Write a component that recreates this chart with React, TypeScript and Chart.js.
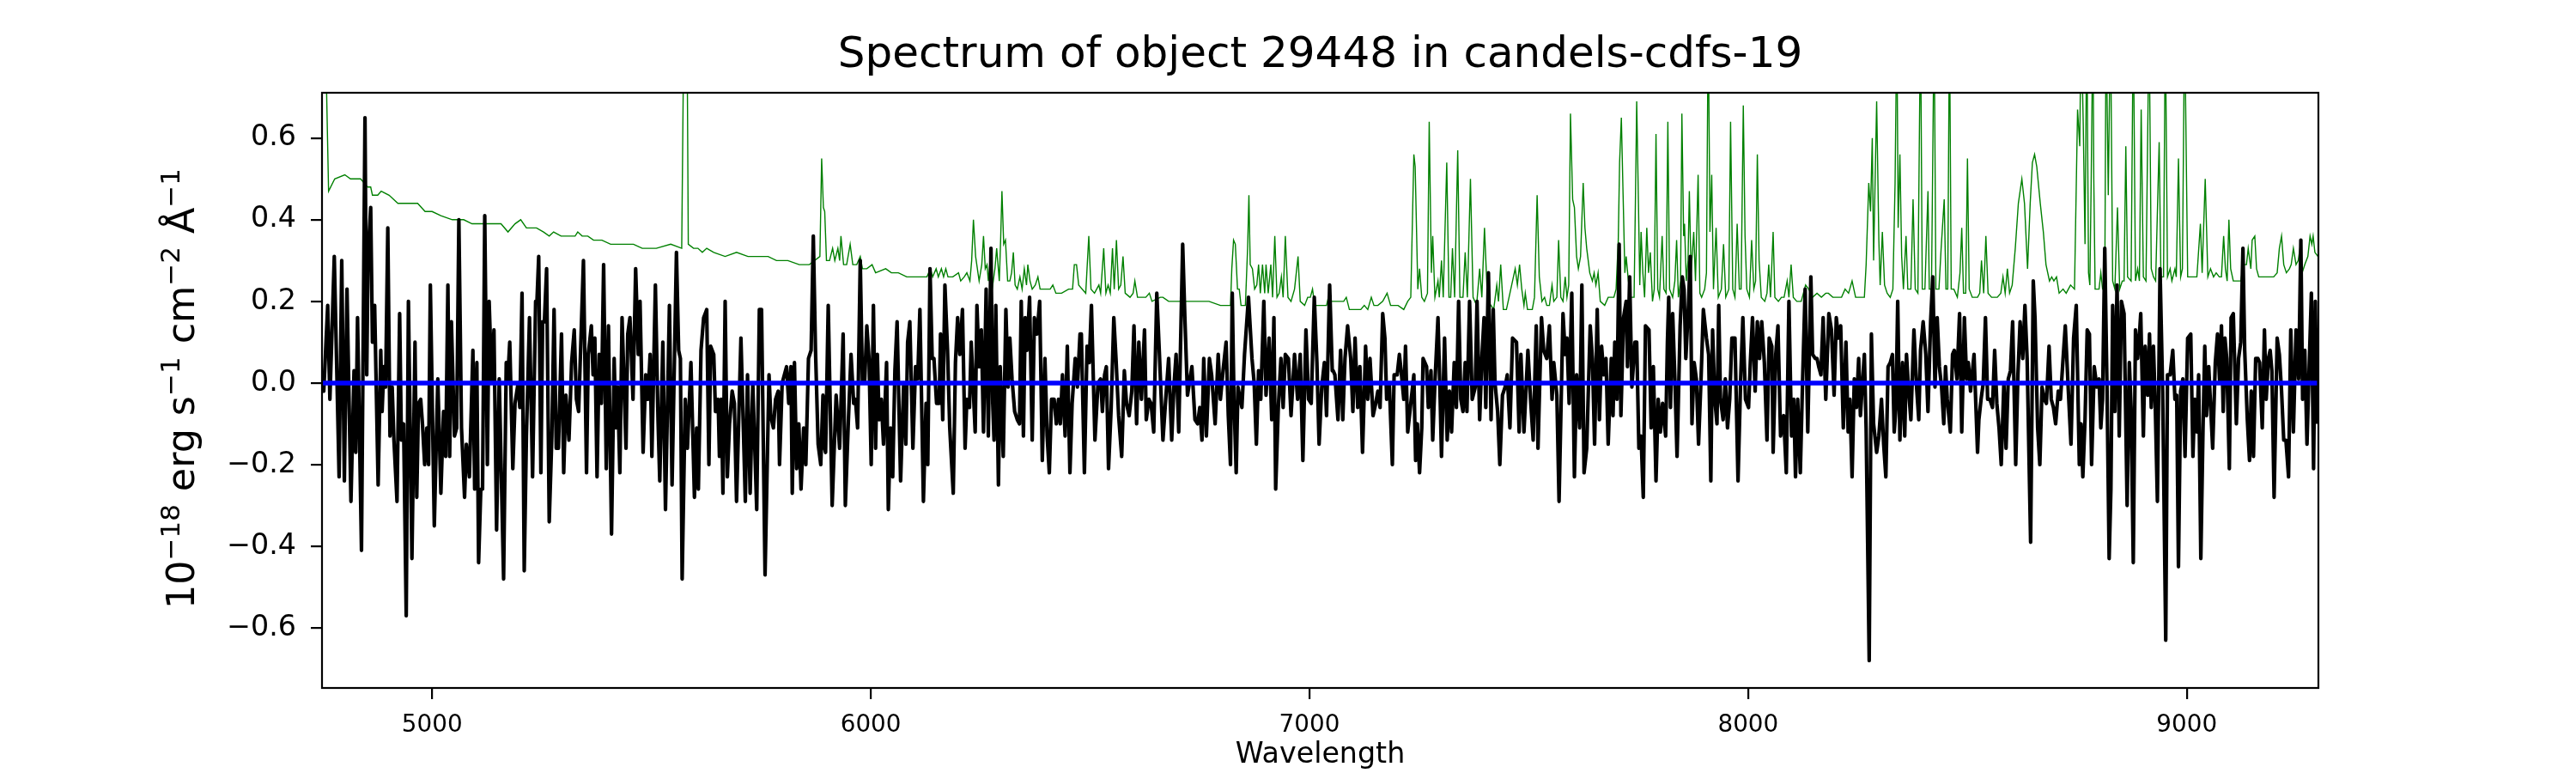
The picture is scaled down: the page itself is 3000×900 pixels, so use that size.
import { useEffect, useRef } from "react";
import { Chart, registerables } from "chart.js";

Chart.register(...registerables);

const FONT = "DejaVu Sans";

const TITLE = "Spectrum of object 29448 in candels-cdfs-19";
const X_LABEL = "Wavelength";
// y label pieces: base text and its superscript
const Y_LABEL_BASE = ["10", "erg", "s", "cm", "Å"];
const Y_LABEL_SUP = ["\u221218", "", "\u22121", "\u22122", "\u22121"];

const X_MIN = 4749;
const X_MAX = 9300;
const Y_MIN = -0.747;
const Y_MAX = 0.711;

const X_TICKS = [5000, 6000, 7000, 8000, 9000];
const Y_TICKS = [-0.6, -0.4, -0.2, 0, 0.2, 0.4, 0.6];

// observed flux (black)
const FLUX_WAVE = [
  4750, 4753, 4762, 4767, 4777, 4788, 4794, 4800, 4806, 4815, 4822, 4826, 4830, 4839, 4847, 4851, 4854, 4860, 4864, 4869,
  4877, 4883, 4886, 4890, 4894, 4899, 4904, 4909, 4913, 4920, 4926, 4930, 4935, 4941, 4946, 4954, 4961, 4965, 4969, 4974,
  4978, 4983, 4988, 4992, 4996, 5005, 5013, 5020, 5026, 5031, 5036, 5040, 5044, 5051, 5056, 5061, 5067, 5074, 5078, 5085,
  5093, 5097, 5102, 5106, 5111, 5115, 5120, 5126, 5130, 5136, 5141, 5147, 5153, 5163, 5169, 5172, 5177, 5184, 5189, 5196,
  5200, 5205, 5210, 5215, 5222, 5229, 5236, 5239, 5243, 5248, 5252, 5256, 5261, 5267, 5273, 5278, 5283, 5288, 5295, 5300,
  5305, 5312, 5318, 5324,
  5329, 5334, 5345, 5352, 5356, 5363, 5367, 5371, 5376, 5381, 5386, 5391, 5397, 5402, 5409, 5415, 5419, 5423, 5428, 5433,
  5437, 5442, 5446, 5451, 5458, 5464, 5470, 5474, 5481, 5487, 5492, 5497, 5501, 5509, 5515, 5519, 5526, 5532, 5541, 5547,
  5557, 5562, 5566, 5570, 5577, 5582, 5590, 5598, 5603, 5607, 5613, 5619, 5626, 5631, 5635, 5642, 5646, 5652, 5655, 5659,
  5663, 5668, 5673, 5678, 5684, 5689, 5694, 5704, 5714, 5719, 5725, 5731, 5740, 5746, 5751, 5759, 5768, 5772, 5778, 5783,
  5789, 5792, 5798, 5808, 5813, 5818, 5821, 5826, 5831, 5836, 5841, 5847, 5852, 5858, 5864, 5869, 5874, 5880, 5886, 5891,
  5895,
  5897, 5903, 5912, 5921, 5929, 5937, 5942, 5949, 5955, 5961, 5965, 5970, 5976, 5981, 5986, 5991, 5996, 6001, 6006, 6011,
  6015, 6019, 6024, 6029, 6036, 6040, 6045, 6050, 6055, 6060, 6068, 6075, 6080, 6084, 6089, 6096, 6102, 6107, 6112, 6120,
  6126, 6130, 6135, 6140, 6144, 6150, 6156, 6159, 6164, 6169, 6175, 6180, 6188, 6193, 6198, 6203, 6209, 6215, 6219, 6225,
  6229, 6238, 6242, 6247, 6252, 6257, 6263, 6268, 6274, 6278, 6281, 6285, 6291, 6295, 6302, 6308, 6313, 6317, 6322, 6328,
  6334, 6339, 6343, 6348, 6352, 6356, 6362, 6368, 6373, 6379, 6385, 6391, 6397, 6402, 6407, 6412, 6418, 6423, 6428, 6432,
  6437, 6443, 6448, 6454, 6459, 6466, 6471, 6477,
  6480, 6487, 6493, 6498, 6503, 6511, 6518, 6524, 6528, 6533, 6537, 6542, 6548, 6554, 6559, 6565, 6572, 6578, 6583, 6589,
  6595, 6600, 6606, 6611, 6617, 6624, 6628, 6634, 6639, 6645, 6652, 6658, 6666, 6673, 6679, 6686, 6691, 6696, 6702, 6711,
  6716, 6722, 6732, 6739, 6745, 6750, 6755, 6759, 6765, 6772, 6777, 6785, 6792, 6797, 6803, 6810, 6815, 6820, 6824, 6828,
  6833, 6837, 6846, 6852, 6861, 6869, 6874, 6879, 6884, 6889, 6896, 6901, 6908, 6914, 6919, 6923, 6929, 6935, 6940, 6945,
  6952, 6958, 6966, 6973, 6979, 6985, 6992, 6998, 7004, 7011, 7017, 7022, 7028, 7034, 7039, 7046, 7052,
  7054, 7058, 7065, 7071, 7076, 7081, 7087, 7094, 7099, 7104, 7110, 7115, 7121, 7128, 7133, 7138, 7145, 7151, 7156, 7161,
  7167, 7172, 7176, 7182, 7189, 7193, 7200, 7205, 7209, 7215, 7219, 7224, 7231, 7238, 7242, 7246, 7251, 7256, 7259, 7267,
  7271, 7277, 7281, 7286, 7293, 7298, 7301, 7308, 7314, 7319, 7324, 7330, 7335, 7340, 7345, 7350, 7355, 7359, 7365, 7371,
  7378, 7382, 7388, 7393, 7398, 7402, 7408, 7414, 7419, 7423, 7429, 7434, 7440, 7446, 7451, 7457, 7463, 7472, 7478, 7482,
  7489, 7498, 7504, 7510, 7517, 7521, 7529, 7534, 7541, 7547, 7553, 7557, 7564, 7569, 7578, 7583, 7587, 7592, 7598, 7604,
  7609, 7616, 7621, 7626, 7632,
  7640, 7645, 7650, 7656, 7661, 7666, 7671, 7676, 7681, 7688, 7692, 7696, 7701, 7706, 7710, 7716, 7722, 7725, 7730, 7735,
  7742, 7746, 7751, 7756, 7761, 7766, 7774, 7779, 7784, 7790, 7795, 7800, 7805, 7812, 7816, 7819, 7823, 7828, 7833, 7838,
  7845, 7850, 7854, 7858, 7864, 7868, 7872, 7877, 7882, 7887, 7893, 7898, 7905, 7910, 7915, 7919, 7924, 7929, 7933, 7937,
  7943, 7948, 7953, 7958, 7963, 7970, 7977, 7983, 7988, 7994, 8001, 8005, 8010, 8016, 8021, 8026, 8031, 8037, 8043, 8048,
  8054, 8057, 8063, 8068, 8074, 8081, 8087, 8093, 8099, 8104, 8108, 8113, 8119, 8124, 8130, 8136, 8143, 8147, 8153, 8157,
  8161, 8166, 8171, 8177, 8184, 8190, 8196, 8201, 8206, 8211,
  8217, 8223, 8228, 8232, 8237, 8242, 8247, 8252, 8256, 8260, 8265, 8269, 8276, 8281, 8286, 8293, 8298, 8304, 8309, 8314,
  8319, 8324, 8329, 8333, 8337, 8341, 8346, 8352, 8357, 8361, 8366, 8371, 8378, 8384, 8389, 8393, 8399, 8405, 8410, 8416,
  8421, 8426, 8431, 8436, 8441, 8446, 8450, 8454, 8461, 8466, 8470, 8476, 8482, 8487, 8493, 8498, 8502, 8507, 8515, 8523,
  8526, 8531, 8536, 8541, 8546, 8551, 8557, 8562, 8567, 8572, 8577, 8583, 8588, 8593, 8598, 8603, 8610, 8615, 8620, 8626,
  8631, 8636, 8644, 8650, 8654, 8660, 8665, 8670, 8675, 8680, 8686, 8691, 8696, 8701, 8707, 8712, 8718, 8723, 8730, 8736,
  8742, 8748, 8755, 8759, 8763, 8768, 8773, 8778, 8783, 8789,
  8795, 8800, 8804, 8808, 8813, 8818, 8823, 8827, 8831, 8836, 8841, 8846, 8851, 8857, 8864, 8869, 8873, 8878, 8883, 8888,
  8891, 8895, 8901, 8905, 8911, 8915, 8919, 8924, 8928, 8933, 8939, 8945, 8952, 8956, 8962, 8968, 8973, 8977, 8981, 8986,
  8991, 8996, 9002, 9009, 9014, 9018, 9023, 9027, 9032, 9037, 9041, 9045, 9050, 9054, 9059, 9065, 9070, 9075, 9079, 9083,
  9087, 9091, 9097, 9101, 9106, 9113, 9118, 9123, 9128, 9132, 9138, 9143, 9147, 9152, 9157, 9162, 9166, 9172, 9177, 9181,
  9186, 9190, 9194, 9199, 9206, 9211, 9216, 9221, 9226, 9232, 9237, 9243, 9249, 9255, 9260, 9264, 9269, 9274, 9279, 9284,
  9289, 9293, 9297,
];

const FLUX = [
  -0.01, -0.02, 0.19, -0.04, 0.31, -0.23, 0.30, -0.24, 0.23, -0.29, 0.03, -0.17, 0.16, -0.41, 0.65, 0.02, 0.31, 0.43, 0.10, 0.19,
  -0.25, 0.08, -0.07, 0.04, -0.01, 0.38, -0.13, -0.01, -0.14, -0.29, 0.17, -0.14, -0.10, -0.57, 0.20, -0.43, 0.10, -0.28, -0.05, -0.04,
  -0.10, -0.20, -0.11, -0.20, 0.24, -0.35, 0.01, -0.27, -0.07, -0.18, 0.24, -0.18, 0.15, -0.13, -0.11, 0.40, -0.11, -0.28, -0.15, -0.23,
  0.08, -0.26, 0.05, -0.44, -0.26, -0.26, 0.41, -0.20, 0.20, 0.00, 0.13, -0.36, 0.01, -0.48, 0.05, 0.00, 0.10, -0.21, -0.05, 0.00,
  -0.06, 0.22, -0.46, -0.13, 0.16, -0.23, 0.20, 0.20, 0.31, -0.22, 0.15, 0.15, 0.28, -0.34, -0.13, 0.18, -0.16, -0.16, 0.12, -0.22,
  -0.03, -0.14, 0.05, 0.13,
  -0.04, -0.07, 0.30, -0.22, 0.07, 0.14, 0.02, 0.11, -0.23, 0.07, -0.05, 0.29, -0.21, 0.14, -0.37, 0.06, -0.11, -0.01, -0.22, 0.16,
  0.02, -0.16, 0.12, 0.16, -0.04, 0.28, 0.07, 0.20, -0.17, 0.02, -0.04, 0.07, -0.18, 0.24, -0.09, -0.24, 0.10, -0.31, 0.19, -0.25,
  0.32, 0.08, 0.06, -0.48, -0.04, -0.16, 0.05, -0.28, -0.11, -0.26, 0.08, 0.16, 0.18, -0.20, 0.09, 0.07, -0.07, -0.04, -0.18, -0.04,
  -0.27, 0.20, -0.23, -0.10, -0.02, -0.05, -0.29, 0.11, -0.29, 0.02, -0.27, 0.00, -0.31, 0.18, 0.18, -0.47, 0.02, -0.08, -0.11, -0.04,
  -0.02, -0.20, 0.00, 0.04, -0.05, 0.04, -0.27, 0.05, -0.21, -0.10, -0.26, -0.11, -0.20, 0.06, 0.08, 0.36, 0.08, -0.15, -0.20, -0.03,
  -0.16,
  -0.17, 0.19, -0.30, -0.03, -0.16, 0.12, -0.30, -0.09, 0.07, -0.05, -0.04, -0.11, 0.30, 0.00, 0.00, 0.14, 0.06, -0.20, 0.19, -0.16,
  0.07, -0.09, -0.04, -0.15, 0.05, -0.31, -0.11, -0.23, 0.03, 0.15, -0.24, 0.00, -0.15, 0.10, 0.15, -0.16, 0.04, 0.01, 0.18, -0.29,
  -0.05, -0.20, 0.28, 0.06, 0.06, -0.05, -0.05, 0.12, -0.09, 0.24, 0.08, -0.11, -0.27, 0.05, 0.16, 0.07, 0.18, -0.16, -0.04, -0.06,
  0.10, -0.12, 0.19, 0.04, 0.13, -0.12, 0.23, -0.13, 0.33, -0.05, -0.14, 0.19, -0.25, 0.04, -0.18, 0.18, -0.01, 0.11, 0.01, -0.07,
  -0.09, -0.10, 0.20, -0.13, 0.16, 0.08, 0.21, -0.14, 0.16, 0.12, 0.20, -0.19, 0.06, -0.13, -0.22, -0.04, -0.04, -0.10, -0.04, -0.10,
  0.02, -0.13, 0.09, -0.22, -0.05, 0.06, -0.01, 0.12,
  0.12, -0.22, 0.09, 0.05, 0.19, -0.14, 0.00, 0.01, -0.07, 0.02, 0.04, -0.21, -0.06, 0.16, 0.06, -0.08, -0.18, 0.03, -0.05, -0.08,
  -0.02, 0.14, -0.10, 0.10, -0.04, 0.13, -0.09, -0.04, -0.05, -0.12, 0.22, 0.07, -0.14, -0.03, 0.06, -0.14, -0.01, 0.07, -0.12, 0.34,
  0.16, -0.03, 0.04, -0.09, -0.10, -0.06, -0.14, 0.06, -0.13, 0.06, 0.02, -0.10, 0.07, -0.04, 0.03, 0.10, -0.08, -0.20, 0.22, -0.04,
  -0.22, -0.01, -0.06, 0.07, 0.21, 0.06, 0.00, -0.15, 0.03, -0.04, 0.20, -0.03, 0.11, -0.09, 0.16, -0.26, -0.06, 0.06, -0.06, 0.07,
  0.06, -0.08, 0.07, -0.04, 0.07, -0.19, 0.13, -0.04, -0.05, 0.21, 0.05, -0.15, -0.01, 0.05, -0.08, 0.24, 0.03,
  0.03, 0.02, -0.09, 0.08, -0.09, 0.06, 0.14, 0.06, -0.07, 0.11, -0.06, 0.04, -0.17, 0.09, -0.04, 0.06, -0.08, -0.05, -0.02, -0.06,
  0.17, 0.11, -0.04, 0.00, -0.20, 0.02, 0.02, 0.07, 0.03, -0.04, 0.09, -0.12, -0.05, 0.02, -0.19, -0.10, -0.22, -0.11, 0.06, 0.04,
  -0.06, 0.03, -0.14, 0.00, 0.16, -0.04, -0.18, 0.11, -0.14, -0.02, -0.12, 0.05, -0.06, 0.20, -0.04, -0.07, 0.05, -0.07, 0.20, -0.04,
  -0.01, 0.20, -0.09, 0.06, 0.16, -0.06, 0.27, -0.09, 0.18, 0.00, -0.07, -0.20, -0.03, -0.01, 0.02, -0.11, 0.11, 0.10, -0.12, 0.07,
  -0.12, 0.08, -0.04, -0.14, 0.14, -0.16, 0.16, 0.08, 0.06, 0.14, -0.04, 0.05, -0.03, -0.29, 0.17, 0.07, 0.11, -0.05, 0.22, -0.23,
  0.02, -0.11, 0.24, -0.22, -0.16,
  0.14, 0.06, -0.15, 0.18, -0.09, 0.09, 0.02, 0.06, -0.15, 0.06, -0.08, 0.10, -0.04, 0.34, -0.08, 0.16, 0.20, 0.04, 0.26, -0.01,
  0.10, 0.10, -0.16, -0.13, -0.28, 0.14, 0.13, -0.11, 0.04, -0.24, -0.04, -0.12, -0.05, -0.13, 0.10, 0.21, -0.06, 0.17, 0.01, -0.18,
  0.14, 0.26, 0.23, 0.06, 0.19, 0.31, -0.10, 0.05, 0.01, -0.15, 0.02, 0.18, 0.11, 0.07, -0.24, 0.13, -0.04, -0.10, 0.19, -0.04,
  -0.09, 0.01, -0.11, -0.04, 0.11, 0.11, -0.24, 0.01, 0.16, -0.04, -0.06, 0.05, 0.16, -0.02, 0.15, 0.06, 0.15, 0.05, -0.14, 0.11,
  0.09, -0.17, 0.07, 0.14, -0.13, -0.08, -0.22, 0.20, -0.13, -0.04, -0.23, -0.04, -0.22, 0.00, 0.23, -0.12, 0.26, 0.07, 0.06, 0.06,
  0.04, 0.02, 0.16, -0.04, 0.17, 0.13, -0.03, 0.16, 0.11, 0.14,
  -0.11, 0.10, -0.12, -0.04, -0.23, 0.01, -0.06, 0.06, -0.08, -0.01, 0.07, -0.11, -0.68, 0.12, -0.10, -0.17, -0.13, -0.04, -0.15, -0.23,
  0.04, 0.05, 0.07, -0.12, -0.06, 0.20, -0.14, 0.05, -0.13, 0.07, -0.02, -0.09, 0.13, -0.01, -0.09, 0.08, 0.15, 0.07, -0.07, 0.15,
  0.26, -0.01, 0.16, 0.04, -0.01, -0.10, 0.04, -0.04, -0.12, 0.07, 0.08, 0.01, 0.17, -0.12, 0.16, 0.01, 0.05, -0.02, 0.07, -0.17,
  -0.09, -0.04, 0.00, 0.16, -0.04, -0.04, -0.06, 0.08, -0.05, -0.11, -0.20, 0.00, -0.16, 0.01, 0.03, 0.15, -0.20, 0.02, 0.15, 0.06,
  0.19, 0.06, -0.39, 0.25, 0.16, -0.11, -0.20, -0.01, -0.04, -0.05, 0.09, -0.04, -0.06, -0.10, -0.02, -0.04, 0.06, 0.14, -0.02, -0.15,
  0.11, 0.19, -0.20, -0.10, -0.23, -0.09, 0.13, 0.12, -0.20, 0.04,
  -0.01, 0.01, -0.11, -0.04, 0.33, 0.00, -0.43, -0.26, 0.19, -0.07, 0.24, -0.13, 0.20, 0.17, -0.30, 0.05, -0.06, -0.44, 0.13, 0.06,
  0.10, 0.17, -0.13, 0.09, -0.03, 0.12, -0.06, 0.09, -0.05, -0.29, 0.28, -0.02, -0.63, 0.02, 0.02, 0.08, -0.04, -0.03, -0.45, -0.02,
  0.01, -0.18, 0.11, 0.12, -0.18, -0.04, -0.12, 0.02, -0.43, -0.11, 0.09, -0.08, 0.04, -0.05, -0.16, 0.05, 0.12, 0.00, 0.14, -0.07,
  0.11, 0.06, -0.21, 0.16, 0.17, -0.10, 0.06, 0.10, 0.33, 0.08, -0.09, -0.19, -0.02, -0.18, 0.06, 0.06, 0.05, -0.11, 0.13, -0.04,
  0.06, 0.08, 0.03, -0.28, 0.11, 0.07, -0.02, -0.14, -0.14, -0.23, 0.13, -0.12, 0.13, 0.01, 0.35, -0.04, 0.08, -0.15, 0.04, 0.22,
  -0.21, 0.20, -0.10,
];

// sky / noise spectrum (green); peaks above the frame are estimated
const SKY_WAVE = [
  4750, 4756, 4764, 4778, 4801, 4814, 4821, 4837, 4853, 4860, 4864, 4876, 4884, 4902, 4922, 4941, 4961, 4967, 4984, 5000,
  5020, 5046, 5072, 5091, 5114, 5137, 5157, 5173, 5189, 5202, 5215, 5238, 5254, 5267, 5277, 5294, 5326, 5332, 5342, 5355,
  5368, 5387, 5407, 5436, 5459, 5479, 5511, 5544, 5569, 5574, 5578, 5581, 5584, 5596, 5606, 5616, 5626, 5642, 5668, 5694,
  5720, 5746, 5766, 5785, 5811, 5837, 5860, 5884, 5888, 5892, 5895, 5899, 5906, 5913, 5918, 5925, 5929, 5932, 5938, 5945,
  5953, 5959, 5968, 5976, 5981, 5991, 6003, 6011, 6034, 6047, 6063, 6082, 6102, 6128, 6136, 6141, 6149, 6154, 6161, 6166,
  6171, 6176, 6187, 6200, 6205, 6213, 6219, 6226, 6230, 6234, 6239, 6247, 6253, 6257, 6261, 6265, 6268, 6273, 6278, 6283,
  6287, 6293, 6296, 6299, 6303, 6307, 6312, 6317, 6321, 6325, 6329, 6334, 6340, 6345, 6350, 6355, 6358, 6363, 6368, 6375,
  6381, 6386, 6396, 6409, 6415, 6422, 6435, 6451, 6460, 6464, 6469, 6474, 6490, 6497, 6502, 6510, 6520, 6524, 6531, 6536,
  6541, 6546, 6551, 6555, 6560, 6565, 6570, 6575, 6580, 6591, 6598, 6602, 6608, 6627, 6635, 6641, 6660, 6666, 6679, 6699,
  6712, 6728, 6745, 6771, 6797, 6820, 6823, 6827, 6831, 6836, 6840, 6844, 6854, 6859, 6862, 6865, 6870, 6875, 6880, 6884,
  6888, 6893, 6898, 6901, 6906, 6912, 6916, 6921, 6926, 6931, 6936, 6940, 6945, 6951, 6958, 6966, 6974, 6979, 6989, 6996,
  7002, 7007, 7012, 7019, 7032, 7039, 7043, 7050, 7058, 7068, 7078, 7084, 7091, 7107, 7117, 7125, 7133, 7141, 7147, 7156,
  7167, 7177, 7185, 7202, 7215, 7224, 7231, 7238, 7241, 7247, 7251, 7256, 7262, 7269, 7273, 7278, 7281, 7286, 7293, 7296,
  7301, 7305, 7313, 7318, 7322, 7326, 7331, 7338, 7343, 7350, 7355, 7360, 7367, 7373, 7381, 7388, 7393, 7399, 7406, 7414,
  7420, 7427, 7431, 7436, 7442, 7449, 7459, 7469, 7474, 7479, 7484, 7489, 7492, 7497, 7508, 7513, 7519, 7524, 7530, 7536,
  7541, 7547, 7553, 7557, 7564, 7568, 7573, 7578, 7583, 7587, 7591, 7595, 7600, 7604, 7609, 7613, 7618, 7624, 7628, 7632,
  7639, 7645, 7649, 7653, 7658, 7663, 7673, 7681, 7688, 7694, 7699, 7704, 7707, 7711, 7715, 7719, 7722, 7727, 7733, 7740,
  7743, 7746, 7750, 7753, 7756, 7760, 7764, 7769, 7773, 7777, 7782, 7786, 7790, 7794, 7798, 7804, 7808, 7813, 7817, 7821,
  7828, 7833, 7837, 7841, 7846, 7849, 7853, 7855, 7859, 7863, 7866, 7870, 7876, 7880, 7886, 7890, 7894, 7901, 7905, 7909,
  7913, 7917, 7921, 7927, 7932, 7939, 7944, 7949, 7956, 7960, 7965, 7970, 7975, 7980, 7984, 7989, 7993, 7997, 8003, 8008,
  8013, 8017, 8021, 8025, 8030, 8038, 8043, 8047, 8051, 8057, 8061, 8069, 8076, 8082, 8089, 8093, 8098, 8103, 8111, 8121,
  8131, 8138, 8147, 8157, 8167, 8177, 8183, 8193, 8203, 8213, 8221, 8229, 8237, 8245, 8255, 8265, 8269, 8275, 8279, 8283,
  8286, 8293, 8298, 8301, 8306, 8311, 8317, 8324, 8330, 8335, 8339, 8342, 8346, 8350, 8354, 8360, 8364, 8371, 8376, 8381,
  8387, 8393, 8397, 8403, 8410, 8413, 8418, 8424, 8428, 8435, 8440, 8447, 8451, 8455, 8459, 8463, 8469, 8477, 8483, 8487,
  8491, 8496, 8500, 8504, 8511, 8523, 8528, 8532, 8537, 8542, 8547, 8555, 8568, 8576, 8581, 8586, 8591, 8596, 8602, 8609,
  8616, 8624, 8630, 8637, 8643, 8648, 8653, 8658, 8666, 8673, 8679, 8687, 8692, 8697, 8703, 8709, 8718, 8725, 8735, 8744,
  8751, 8756, 8759, 8764, 8768, 8772, 8776, 8779, 8782, 8786, 8788, 8791, 8800, 8804, 8808, 8813, 8816, 8821, 8826, 8831,
  8836, 8842, 8847, 8853, 8857, 8861, 8865, 8873, 8878, 8883, 8888, 8892, 8896, 8901, 8907, 8914, 8919, 8924, 8929, 8937,
  8941, 8947, 8951, 8956, 8962, 8966, 8973, 8976, 8981, 8986, 8990, 8995, 9002, 9012, 9018, 9023, 9031, 9035, 9042, 9048,
  9054, 9061, 9067, 9074, 9079, 9084, 9088, 9092, 9096, 9100, 9106, 9116, 9123, 9129, 9136, 9140, 9146, 9149, 9155, 9159,
  9164, 9178, 9188, 9198, 9206, 9211, 9216, 9221, 9227, 9234, 9238, 9243, 9249, 9254, 9258, 9263, 9269, 9276, 9281, 9285,
  9288, 9292, 9299,
];

const SKY = [
  1.5, 0.9, 0.47, 0.50, 0.51, 0.50, 0.50, 0.50, 0.48, 0.48, 0.46, 0.46, 0.47, 0.46, 0.44, 0.44, 0.44, 0.44, 0.42, 0.42,
  0.41, 0.40, 0.40, 0.39, 0.39, 0.39, 0.39, 0.37, 0.39, 0.40, 0.38, 0.38, 0.37, 0.36, 0.37, 0.36, 0.36, 0.37, 0.36, 0.36,
  0.35, 0.35, 0.34, 0.34, 0.34, 0.33, 0.33, 0.34, 0.33, 0.9, 1.1, 0.9, 0.34, 0.33, 0.33, 0.32, 0.33, 0.32, 0.31, 0.32,
  0.31, 0.31, 0.31, 0.30, 0.30, 0.29, 0.29, 0.31, 0.55, 0.43, 0.42, 0.30, 0.30, 0.33, 0.30, 0.33, 0.30, 0.36, 0.29, 0.29,
  0.34, 0.29, 0.29, 0.31, 0.28, 0.28, 0.29, 0.27, 0.28, 0.27, 0.27, 0.26, 0.26, 0.26, 0.28, 0.26, 0.28, 0.26, 0.28, 0.26,
  0.28, 0.26, 0.26, 0.27, 0.25, 0.26, 0.27, 0.25, 0.30, 0.40, 0.31, 0.25, 0.29, 0.36, 0.28, 0.29, 0.25, 0.31, 0.24, 0.28,
  0.33, 0.25, 0.35, 0.47, 0.34, 0.35, 0.25, 0.25, 0.27, 0.32, 0.24, 0.23, 0.26, 0.23, 0.28, 0.24, 0.29, 0.25, 0.23, 0.24,
  0.26, 0.23, 0.23, 0.23, 0.24, 0.22, 0.22, 0.23, 0.23, 0.29, 0.29, 0.24, 0.22, 0.36, 0.23, 0.22, 0.24, 0.22, 0.33, 0.22,
  0.24, 0.22, 0.33, 0.23, 0.35, 0.23, 0.24, 0.31, 0.22, 0.21, 0.22, 0.25, 0.21, 0.21, 0.22, 0.20, 0.21, 0.21, 0.20, 0.20,
  0.20, 0.20, 0.20, 0.20, 0.19, 0.19, 0.28, 0.35, 0.34, 0.23, 0.23, 0.19, 0.19, 0.33, 0.46, 0.29, 0.28, 0.23, 0.24, 0.29,
  0.22, 0.29, 0.22, 0.29, 0.22, 0.29, 0.21, 0.36, 0.21, 0.22, 0.26, 0.21, 0.36, 0.21, 0.20, 0.23, 0.31, 0.20, 0.19, 0.21,
  0.21, 0.23, 0.19, 0.19, 0.19, 0.19, 0.21, 0.20, 0.20, 0.20, 0.20, 0.21, 0.18, 0.18, 0.18, 0.19, 0.18, 0.21, 0.19, 0.19,
  0.20, 0.22, 0.19, 0.19, 0.18, 0.20, 0.21, 0.56, 0.53, 0.23, 0.28, 0.21, 0.20, 0.22, 0.64, 0.27, 0.36, 0.21, 0.25, 0.21,
  0.30, 0.21, 0.54, 0.21, 0.21, 0.33, 0.21, 0.57, 0.21, 0.21, 0.32, 0.21, 0.50, 0.21, 0.19, 0.28, 0.21, 0.38, 0.20, 0.19,
  0.18, 0.24, 0.20, 0.29, 0.18, 0.18, 0.23, 0.28, 0.24, 0.29, 0.23, 0.19, 0.22, 0.18, 0.18, 0.21, 0.46, 0.26, 0.20, 0.21,
  0.19, 0.19, 0.24, 0.20, 0.21, 0.35, 0.21, 0.20, 0.26, 0.21, 0.24, 0.66, 0.45, 0.43, 0.31, 0.28, 0.31, 0.49, 0.38, 0.33,
  0.27, 0.25, 0.27, 0.24, 0.27, 0.20, 0.19, 0.21, 0.21, 0.21, 0.23, 0.35, 0.54, 0.65, 0.46, 0.27, 0.31, 0.25, 0.21, 0.21,
  0.44, 0.69, 0.44, 0.24, 0.37, 0.27, 0.21, 0.38, 0.27, 0.32, 0.20, 0.23, 0.61, 0.23, 0.21, 0.36, 0.23, 0.22, 0.64, 0.23,
  0.21, 0.25, 0.35, 0.21, 0.25, 0.66, 0.36, 0.39, 0.25, 0.30, 0.47, 0.27, 0.37, 0.25, 0.51, 0.22, 0.21, 0.23, 0.27, 0.9,
  0.37, 0.51, 0.23, 0.38, 0.21, 0.23, 0.34, 0.21, 0.23, 0.64, 0.23, 0.21, 0.39, 0.23, 0.23, 0.68, 0.36, 0.23, 0.21, 0.35,
  0.23, 0.25, 0.56, 0.30, 0.21, 0.20, 0.22, 0.29, 0.21, 0.37, 0.21, 0.20, 0.21, 0.21, 0.25, 0.21, 0.29, 0.21, 0.20, 0.20,
  0.24, 0.23, 0.21, 0.22, 0.21, 0.22, 0.22, 0.21, 0.21, 0.21, 0.23, 0.22, 0.25, 0.21, 0.21, 0.21, 0.29, 0.49, 0.42, 0.60,
  0.30, 0.69, 0.35, 0.24, 0.37, 0.24, 0.22, 0.21, 0.23, 0.49, 0.9, 0.38, 0.56, 0.31, 0.23, 0.36, 0.23, 0.23, 0.45, 0.23,
  0.22, 0.9, 0.23, 0.23, 0.47, 0.23, 0.23, 0.9, 0.23, 0.23, 0.33, 0.45, 0.23, 0.23, 0.9, 0.23, 0.23, 0.21, 0.27, 0.38,
  0.22, 0.22, 0.55, 0.23, 0.21, 0.21, 0.22, 0.30, 0.22, 0.36, 0.22, 0.21, 0.21, 0.22, 0.26, 0.22, 0.28, 0.22, 0.24, 0.33,
  0.44, 0.50, 0.44, 0.28, 0.44, 0.54, 0.56, 0.53, 0.44, 0.37, 0.29, 0.25, 0.26, 0.25, 0.26, 0.22, 0.23, 0.22, 0.24, 0.23,
  0.67, 0.58, 0.9, 0.63, 0.34, 0.9, 0.27, 0.24, 0.49, 0.9, 0.5, 0.23, 0.23, 0.27, 0.23, 0.23, 0.9, 0.46, 0.9, 0.25,
  0.23, 0.43, 0.23, 0.25, 0.25, 0.58, 0.26, 0.25, 0.9, 0.25, 0.28, 0.25, 0.67, 0.26, 0.25, 0.9, 0.28, 0.26, 0.25, 0.59,
  0.26, 0.26, 0.9, 0.26, 0.28, 0.25, 0.28, 0.26, 0.55, 0.26, 0.28, 0.9, 0.26, 0.26, 0.26, 0.26, 0.39, 0.27, 0.50, 0.26,
  0.28, 0.26, 0.27, 0.26, 0.26, 0.36, 0.28, 0.25, 0.40, 0.28, 0.25, 0.25, 0.25, 0.29, 0.29, 0.33, 0.28, 0.35, 0.36, 0.28,
  0.26, 0.26, 0.26, 0.26, 0.27, 0.33, 0.36, 0.29, 0.27, 0.28, 0.29, 0.33, 0.29, 0.30, 0.33, 0.27, 0.29, 0.31, 0.36, 0.34,
  0.36, 0.32, 0.31,
];

// fitted model (blue), flat at zero
const MODEL_WAVE = [4750, 9297];
const MODEL = [0, 0];

const toPoints = (xs: number[], ys: number[]) =>
  xs.slice(0, Math.min(xs.length, ys.length)).map((x, i) => ({ x, y: ys[i] }));

// matplotlib-style box round the axes
const framePlugin = {
  id: "frame",
  afterDatasetsDraw(chart: Chart) {
    const { ctx, chartArea } = chart;
    ctx.save();
    ctx.strokeStyle = "#000";
    ctx.lineWidth = 2.2;
    ctx.strokeRect(
      chartArea.left,
      chartArea.top,
      chartArea.right - chartArea.left,
      chartArea.bottom - chartArea.top
    );
    ctx.restore();
  },
};

// rotated y label with real superscripts
const yLabelPlugin = {
  id: "ylabel",
  afterDraw(chart: Chart) {
    const { ctx, chartArea } = chart;
    const base = `44.4px "${FONT}"`;
    const sup = `31px "${FONT}"`;
    const gap = 15;
    ctx.save();
    let total = 0;
    Y_LABEL_BASE.forEach((t, i) => {
      ctx.font = base;
      total += ctx.measureText(t).width;
      ctx.font = sup;
      total += Y_LABEL_SUP[i] ? ctx.measureText(Y_LABEL_SUP[i]).width : 0;
      if (i < Y_LABEL_BASE.length - 1) total += gap;
    });
    const cy = (chartArea.top + chartArea.bottom) / 2 - 2;
    ctx.translate(226, cy);
    ctx.rotate(-Math.PI / 2);
    ctx.fillStyle = "#000";
    ctx.textBaseline = "alphabetic";
    ctx.textAlign = "left";
    let x = -total / 2;
    Y_LABEL_BASE.forEach((t, i) => {
      ctx.font = base;
      ctx.fillText(t, x, 0);
      x += ctx.measureText(t).width;
      if (Y_LABEL_SUP[i]) {
        ctx.font = sup;
        ctx.fillText(Y_LABEL_SUP[i], x, -17);
        x += ctx.measureText(Y_LABEL_SUP[i]).width;
      }
      x += gap;
    });
    ctx.restore();
  },
};

export default function App() {
  const canvasRef = useRef<HTMLCanvasElement | null>(null);

  useEffect(() => {
    document.body.style.margin = "0";
    if (!canvasRef.current) return;

    const chart = new Chart(canvasRef.current, {
      type: "line",
      data: {
        datasets: [
          {
            label: "model",
            data: toPoints(MODEL_WAVE, MODEL),
            borderColor: "#0000ff",
            borderWidth: 5.6,
            pointRadius: 0,
            clip: 0,
          },
          {
            label: "flux",
            data: toPoints(FLUX_WAVE, FLUX),
            borderColor: "#000000",
            borderWidth: 4.2,
            borderJoinStyle: "round",
            pointRadius: 0,
            clip: 0,
          },
          {
            label: "sky",
            data: toPoints(SKY_WAVE, SKY),
            borderColor: "#008000",
            borderWidth: 1.4,
            pointRadius: 0,
            clip: 0,
          },
        ],
      },
      options: {
        responsive: false,
        devicePixelRatio: 1,
        animation: false,
        events: [],
        layout: { padding: { left: 0, right: 300, top: 0, bottom: 0 } },
        elements: { line: { tension: 0 } },
        plugins: {
          legend: { display: false },
          tooltip: { enabled: false },
          title: {
            display: true,
            fullSize: false,
            text: TITLE,
            color: "#000",
            font: { family: FONT, size: 50, weight: "normal" },
            padding: { top: 35, bottom: 13 },
          },
        },
        scales: {
          x: {
            type: "linear",
            min: X_MIN,
            max: X_MAX,
            border: { display: false },
            grid: {
              drawOnChartArea: false,
              drawTicks: true,
              tickLength: 13,
              color: "#000",
              lineWidth: 2.2,
            },
            ticks: {
              color: "#000",
              font: { family: FONT, size: 27.8 },
              padding: 14,
              maxRotation: 0,
              callback: (v) => String(v),
            },
            afterBuildTicks: (scale) => {
              scale.ticks = X_TICKS.map((value) => ({ value }));
            },
            afterFit: (scale) => {
              scale.height = 99;
            },
            title: {
              display: true,
              text: X_LABEL,
              color: "#000",
              font: { family: FONT, size: 33.3 },
              padding: { top: 0, bottom: 1 },
            },
          },
          y: {
            type: "linear",
            min: Y_MIN,
            max: Y_MAX,
            border: { display: false },
            grid: {
              drawOnChartArea: false,
              drawTicks: true,
              tickLength: 13,
              color: "#000",
              lineWidth: 2.2,
            },
            ticks: {
              color: "#000",
              font: { family: FONT, size: 33.3 },
              padding: 17,
              callback: (v) => {
                const n = Number(v);
                const s = Math.abs(n).toFixed(1);
                return n < -1e-9 ? "\u2212" + s : s;
              },
            },
            afterBuildTicks: (scale) => {
              scale.ticks = Y_TICKS.map((value) => ({ value }));
            },
            afterFit: (scale) => {
              scale.width = 375;
            },
          },
        },
      },
      plugins: [framePlugin, yLabelPlugin],
    });

    return () => {
      chart.destroy();
    };
  }, []);

  return (
    <div style={{ width: 3000, height: 900, background: "#fff" }}>
      <canvas ref={canvasRef} width={3000} height={900} />
    </div>
  );
}
